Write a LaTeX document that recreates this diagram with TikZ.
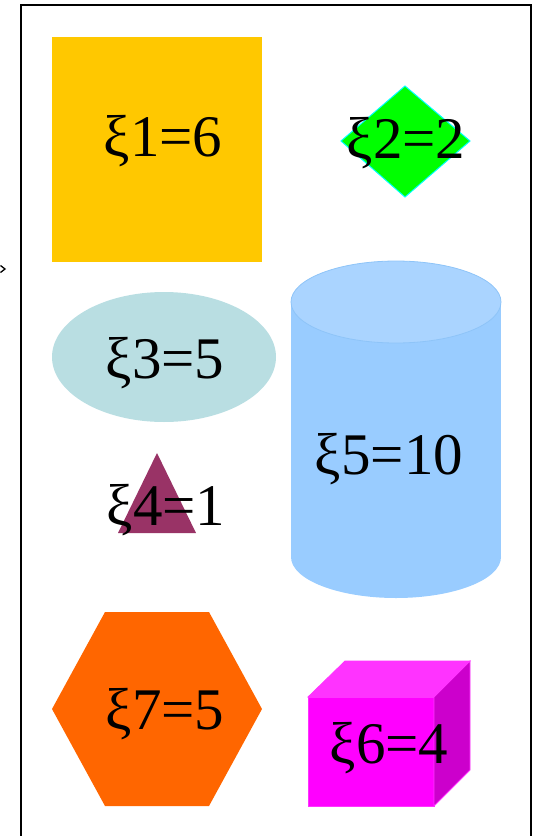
\documentclass[tikz,border=0pt]{standalone}
\usepackage{fontspec}
\setmainfont{Liberation Serif}
\definecolor{cyel}{HTML}{FFC800}
\definecolor{cgreen}{HTML}{00FF00}
\definecolor{ccyan}{HTML}{00FFFF}
\definecolor{cell}{HTML}{B9DEE2}
\definecolor{cpurp}{HTML}{993366}
\definecolor{ccyl}{HTML}{99CCFF}
\definecolor{ccyltop}{HTML}{AAD4FF}
\definecolor{ccyledge}{HTML}{8EC4F8}
\definecolor{cmag}{HTML}{FF00FF}
\definecolor{cmagtop}{HTML}{FF33FF}
\definecolor{cmagside}{HTML}{CC00CC}
\definecolor{corange}{HTML}{FF6600}
\tikzset{lbl/.style={font=\fontsize{59}{59}\selectfont, inner sep=0pt, text=black}}
\begin{document}
\begin{tikzpicture}[x=1pt,y=-1pt]
\useasboundingbox (0,0) rectangle (537,836);
% frame
\draw[line width=2pt] (20.5,840) -- (20.5,5) -- (531,5) -- (531,840);
\draw[line width=1.3pt] (0.5,265.5) -- (5,269) -- (0.5,272.5);
% 1 yellow square
\fill[cyel] (52,37) rectangle (262,262);
\node[lbl] (n1) at (163,141) {ξ1=6};
% 2 diamond
\fill[cgreen, draw=ccyan, line width=1pt] (405,86) -- (470,141) -- (405,197) -- (341,141) -- cycle;
\node[lbl] (n2) at (406,143) {ξ2=2};
% 3 ellipse
\fill[cell] (164,357) ellipse [x radius=112, y radius=65];
\node[lbl] (n3) at (165,363) {ξ3=5};
% 4 triangle
\fill[cpurp] (157,453) -- (196,533) -- (118,533) -- cycle;
\node[lbl] (n4) at (166,510) {ξ4=1};
% 5 cylinder
\fill[ccyl] (396,557) ellipse [x radius=105, y radius=41];
\fill[ccyl] (291,302) rectangle (501,557);
\fill[ccyltop, draw=ccyledge, line width=0.8pt] (396,302) ellipse [x radius=105, y radius=41];
\node[lbl] (n5) at (389,459) {ξ5=10};
% 6 cube
\fill[cmag, draw=cmagtop, line width=0.8pt] (308,697) rectangle (434,806);
\fill[cmagtop, draw=cmagtop, line width=0.8pt] (308,697) -- (345,661) -- (470,661) -- (434,697) -- cycle;
\fill[cmagside, draw=cmagtop, line width=0.8pt] (434,697) -- (470,661) -- (470,770) -- (434,806) -- cycle;
\node[lbl] (n6) at (389,748) {ξ6=4};
% 7 hexagon
\fill[corange] (52,709) -- (105,612) -- (209,612) -- (262,709) -- (209,806) -- (105,806) -- cycle;
\node[lbl] (n7) at (165,714) {ξ7=5};
\end{tikzpicture}
\end{document}
